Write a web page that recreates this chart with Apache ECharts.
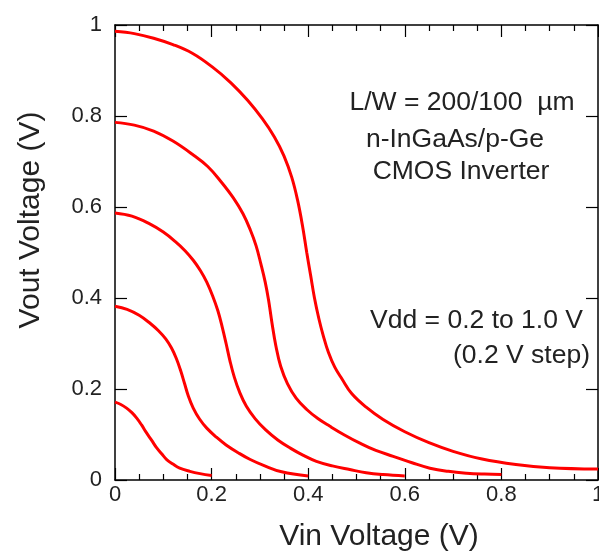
<!DOCTYPE html>
<html>
<head>
<meta charset="utf-8">
<script src="https://cdn.jsdelivr.net/npm/echarts@6/dist/echarts.min.js"></script>
<style>
html,body{margin:0;padding:0;background:#fff;}
#chart{width:599px;height:554px;}
</style>
</head>
<body>
<div id="chart"></div>
<script>
// ---- data ----
const vdd10X = [0, 0.04, 0.08, 0.12, 0.16, 0.20, 0.24, 0.275, 0.305, 0.33, 0.35, 0.366, 0.378, 0.388, 0.397, 0.405, 0.413, 0.422, 0.431, 0.442, 0.455, 0.47, 0.49, 0.52, 0.555, 0.6, 0.65, 0.7, 0.76, 0.83, 0.9, 1.0];
const vdd10Y = [0.986, 0.981, 0.971, 0.957, 0.938, 0.909, 0.873, 0.834, 0.794, 0.754, 0.712, 0.665, 0.615, 0.56, 0.50, 0.45, 0.40, 0.355, 0.318, 0.28, 0.248, 0.222, 0.19, 0.16, 0.133, 0.106, 0.082, 0.063, 0.046, 0.034, 0.027, 0.024];

const vdd08X = [0, 0.04, 0.08, 0.12, 0.16, 0.192, 0.22, 0.245, 0.265, 0.28, 0.292, 0.302, 0.311, 0.318, 0.325, 0.333, 0.343, 0.357, 0.375, 0.397, 0.42, 0.445, 0.475, 0.507, 0.54, 0.576, 0.615, 0.652, 0.69, 0.728, 0.765, 0.80];
const vdd08Y = [0.786, 0.780, 0.767, 0.745, 0.716, 0.689, 0.655, 0.62, 0.585, 0.55, 0.515, 0.475, 0.435, 0.395, 0.345, 0.295, 0.25, 0.212, 0.18, 0.155, 0.135, 0.118, 0.099, 0.081, 0.065, 0.052, 0.038, 0.026, 0.019, 0.015, 0.013, 0.012];

const vdd06X = [0, 0.035, 0.07, 0.1, 0.125, 0.145, 0.162, 0.177, 0.19, 0.202, 0.213, 0.222, 0.23, 0.238, 0.247, 0.258, 0.272, 0.29, 0.312, 0.337, 0.363, 0.39, 0.417, 0.45, 0.486, 0.52, 0.555, 0.6];
const vdd06Y = [0.587, 0.580, 0.564, 0.545, 0.524, 0.504, 0.483, 0.46, 0.435, 0.405, 0.372, 0.336, 0.30, 0.262, 0.226, 0.193, 0.162, 0.135, 0.11, 0.088, 0.07, 0.054, 0.041, 0.031, 0.023, 0.016, 0.012, 0.009];

const vdd04X = [0, 0.025, 0.05, 0.072, 0.09, 0.105, 0.117, 0.127, 0.136, 0.144, 0.152, 0.162, 0.175, 0.19, 0.21, 0.23, 0.255, 0.28, 0.31, 0.345, 0.4];
const vdd04Y = [0.382, 0.375, 0.362, 0.345, 0.328, 0.31, 0.29, 0.267, 0.24, 0.212, 0.184, 0.158, 0.134, 0.114, 0.094, 0.077, 0.06, 0.045, 0.031, 0.018, 0.009];

const vdd02X = [0, 0.012, 0.024, 0.035, 0.045, 0.055, 0.065, 0.076, 0.086, 0.097, 0.107, 0.12, 0.134, 0.155, 0.176, 0.2];
const vdd02Y = [0.171, 0.166, 0.158, 0.148, 0.136, 0.121, 0.104, 0.087, 0.071, 0.057, 0.045, 0.035, 0.026, 0.019, 0.014, 0.01];

const xTitle = 'Vin Voltage (V)';
const yTitle = 'Vout Voltage (V)';
const noteLines = ['L/W = 200/100  \u00b5m', 'n-InGaAs/p-Ge', 'CMOS Inverter'];
const vddLines = ['Vdd = 0.2 to 1.0 V', '(0.2 V step)'];

function zip(xs, ys) { return xs.map((x, i) => [x, ys[i]]); }

const FONT = '"Liberation Sans", Arial, sans-serif';
const TXT = '#222';

const chart = echarts.init(document.getElementById('chart'), null, {renderer: 'canvas'});

function xAxisCfg(pos, labels) {
  return {
    type: 'value', min: 0, max: 1, interval: 0.2, position: pos,
    axisLine: {show: true, onZero: false, lineStyle: {color: '#000', width: 1.5}},
    axisTick: {show: true, inside: true, length: 12, lineStyle: {color: '#000', width: 1.2}},
    minorTick: {show: true, splitNumber: 4, length: 6, lineStyle: {color: '#000', width: 1.2}},
    axisLabel: {show: labels, fontSize: 22, color: TXT, fontFamily: FONT, margin: 4, showMaxLabel: true, hideOverlap: false},
    splitLine: {show: false}, minorSplitLine: {show: false}
  };
}
function yAxisCfg(pos, labels) {
  return {
    type: 'value', min: 0, max: 1, interval: 0.2, position: pos,
    axisLine: {show: true, onZero: false, lineStyle: {color: '#000', width: 1.5}},
    axisTick: {show: true, inside: true, length: 12, lineStyle: {color: '#000', width: 1.2}},
    axisLabel: {show: labels, fontSize: 22, color: TXT, fontFamily: FONT, margin: 13, padding: [0, 0, 6, 0], showMaxLabel: true},
    splitLine: {show: false}
  };
}

const curves = [zip(vdd10X, vdd10Y), zip(vdd08X, vdd08Y), zip(vdd06X, vdd06Y), zip(vdd04X, vdd04Y), zip(vdd02X, vdd02Y)];

const option = {
  animation: false,
  backgroundColor: '#fff',
  grid: {left: 115, right: 1, top: 25, bottom: 74, containLabel: false, outerBoundsMode: 'none'},
  xAxis: [xAxisCfg('bottom', true), xAxisCfg('top', false)],
  yAxis: [yAxisCfg('left', true), yAxisCfg('right', false)],
  series: curves.map(d => ({
    type: 'line', xAxisIndex: 0, yAxisIndex: 0, data: d,
    showSymbol: false, smooth: 0.4,
    lineStyle: {color: '#ff0000', width: 3}, z: 3
  })),
  graphic: [
    {type: 'text', x: 379, y: 537, style: {text: xTitle, font: '30px ' + FONT, fill: TXT, align: 'center', verticalAlign: 'middle'}},
    {type: 'text', x: 31, y: 220, rotation: Math.PI / 2, style: {text: yTitle, font: '30px ' + FONT, fill: TXT, align: 'center', verticalAlign: 'middle'}},
    {type: 'text', x: 462, y: 103, style: {text: noteLines[0], font: '26.5px ' + FONT, fill: TXT, align: 'center', verticalAlign: 'middle'}},
    {type: 'text', x: 455, y: 140, style: {text: noteLines[1], font: '26.5px ' + FONT, fill: TXT, align: 'center', verticalAlign: 'middle'}},
    {type: 'text', x: 461, y: 172, style: {text: noteLines[2], font: '26.5px ' + FONT, fill: TXT, align: 'center', verticalAlign: 'middle'}},
    {type: 'text', x: 583, y: 321, style: {text: vddLines[0], font: '26.5px ' + FONT, fill: TXT, align: 'right', verticalAlign: 'middle'}},
    {type: 'text', x: 590, y: 356, style: {text: vddLines[1], font: '26.5px ' + FONT, fill: TXT, align: 'right', verticalAlign: 'middle'}}
  ]
};
chart.setOption(option);
</script>
</body>
</html>
